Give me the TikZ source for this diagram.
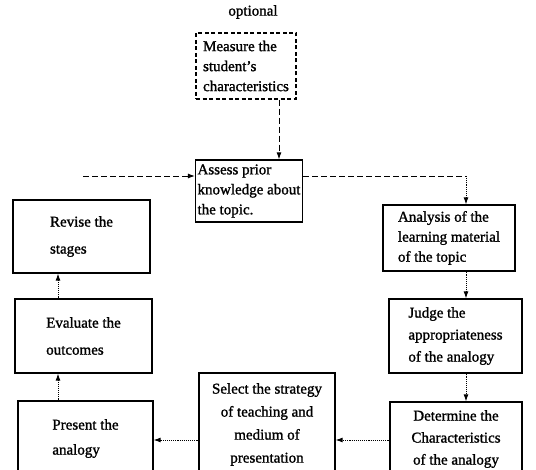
\documentclass[tikz,border=0pt]{standalone}
\usepackage{fontspec}
\setmainfont{Liberation Serif}[BoldFont={Liberation Serif},BoldFeatures={FakeBold=1.3}]
\usepackage{tikz}
\usetikzlibrary{arrows.meta,calc}

\begin{document}
\begin{tikzpicture}[x=1pt,y=-1pt,>={Latex[length=7pt,width=5pt]},
  stage/.style={draw=black,line width=1.3pt,align=left,inner sep=2pt,font=\bfseries\fontsize{15}{20}\selectfont},
  opt/.style={stage,dash pattern=on 4pt off 2.5pt},
  dsh/.style={line width=0.9pt,dash pattern=on 6pt off 3pt},
  dot/.style={line width=0.9pt,densely dotted}]
\useasboundingbox (0,0) rectangle (536,470);
\node[font=\bfseries\fontsize{15}{20}\selectfont] (opttxt) at (253,12) {optional};
\node[opt,minimum width=100pt,minimum height=66pt] (measure) at (246,66) {Measure the\\student's\\characteristics};
\node[stage,minimum width=106pt,minimum height=62pt] (assess) at (249,191) {Assess prior\\knowledge about\\the topic.};
\node[stage,minimum width=132pt,minimum height=66pt] (analysis) at (449,238) {Analysis of the\\learning material\\of the topic};
\node[stage,minimum width=133pt,minimum height=74pt,font=\bfseries\fontsize{15}{22}\selectfont] (judge) at (455.5,336) {Judge the\\appropriateness\\of the analogy};
\node[stage,align=center,minimum width=132pt,minimum height=74pt,font=\bfseries\fontsize{15}{22}\selectfont] (determine) at (456,439) {Determine the\\Characteristics\\of the analogy};
\node[stage,align=center,minimum width=136pt,minimum height=103pt,font=\bfseries\fontsize{15}{23}\selectfont] (select) at (267,424.5) {Select the strategy\\of teaching and\\medium of\\presentation};
\node[stage,minimum width=135pt,minimum height=75pt,font=\bfseries\fontsize{15}{25}\selectfont] (present) at (85.5,438.5) {Present the\\analogy};
\node[stage,minimum width=137pt,minimum height=74pt,font=\bfseries\fontsize{15}{27}\selectfont] (evaluate) at (83.5,336) {Evaluate the\\outcomes};
\node[stage,minimum width=137pt,minimum height=73pt,font=\bfseries\fontsize{15}{27}\selectfont] (revise) at (81.5,236.5) {Revise the\\stages};
% helper coordinates for the connector lines
\coordinate (ax) at (279,0);
\coordinate (ay) at (0,176);
\coordinate (fb) at (83,176);
\coordinate (rx) at (466,0);
\coordinate (lx) at (58,0);
\coordinate (by) at (0,440);
\draw[dsh,->] (measure.south -| ax) -- (assess.north -| ax);
\draw[dsh,->] (fb) -- (assess.west |- fb);
\draw[dsh] (assess.east |- ay) -- (ay -| rx);
\draw[dot,->] (ay -| rx) -- (analysis.north -| rx);
\draw[dot,->] (analysis.south -| rx) -- (judge.north -| rx);
\draw[dot,->] (judge.south -| rx) -- (determine.north -| rx);
\draw[dot,->] (determine.west |- by) -- (select.east |- by);
\draw[dot,->] (select.west |- by) -- (present.east |- by);
\draw[dot,->] (present.north -| lx) -- (evaluate.south -| lx);
\draw[dot,->] (evaluate.north -| lx) -- (revise.south -| lx);
\end{tikzpicture}
\end{document}
